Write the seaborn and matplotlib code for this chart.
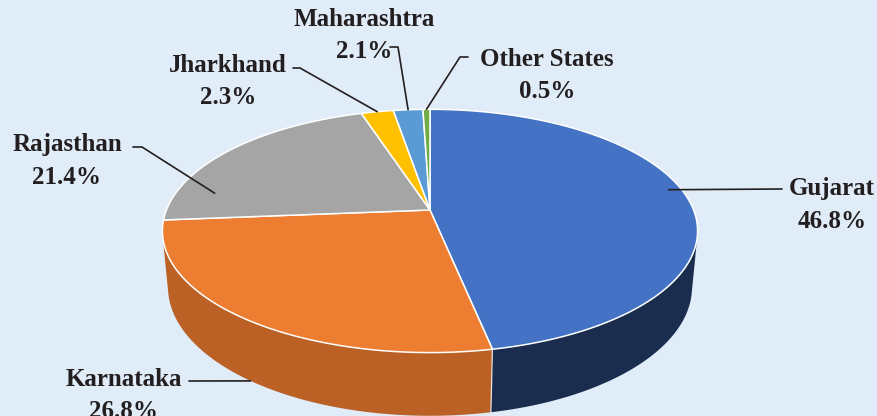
"""
3D-style pie chart: state-wise share (recreated with seaborn/matplotlib)
"""

import numpy as np
import matplotlib
matplotlib.use("Agg")
import matplotlib.pyplot as plt
from matplotlib.patches import Polygon
import seaborn as sns

# Data
states = ["Gujarat", "Karnataka", "Rajasthan", "Jharkhand", "Maharashtra", "Other States"]
shares = [46.8, 26.8, 21.4, 2.3, 2.1, 0.5]

# Office palette for the top face and the shaded side walls
top_colors = ["#4472C4", "#ED7D31", "#A5A5A5", "#FFC000", "#5B9BD5", "#70AD47"]
side_colors = ["#1B2D4F", "#BB6126", "#7C7C7C", "#BF9000", "#44749F", "#548235"]

BG = "#E0ECF8"
INK = "#231F20"

# Perspective camera for the tilted disc (pixel space)
CX, CY = 430, 210
SCALE = 1368
DIST = 5.19
ELEV = np.radians(26.6)
THICK = 0.24


def project(theta, r=1.0, h=0.0):
    """Project a point of the disc (angle clockwise from the back, radius, height) to pixels"""
    u = r * np.sin(theta)
    v = -r * np.cos(theta)
    z = DIST - v * np.cos(ELEV) - h * np.sin(ELEV)
    x = CX + SCALE * u / z
    y = CY + SCALE * (v * np.sin(ELEV) - h * np.cos(ELEV)) / z
    return x, y


sns.set_theme(style="white")
plt.rcParams['font.family'] = ['Liberation Serif', 'DejaVu Serif']

fig = plt.figure(figsize=(8.78, 4.16), dpi=100, facecolor=BG)
ax = fig.add_axes([0, 0, 1, 1])
ax.set_facecolor(BG)
ax.set_xlim(0, 878)
ax.set_ylim(416, 0)
ax.axis("off")

total = sum(shares)
bounds = 2 * np.pi * np.concatenate([[0], np.cumsum(shares)]) / total

# Side walls are only visible where they face the camera
v_min = 1.0 / (DIST * np.cos(ELEV))
vis_lo = np.arccos(-v_min)
vis_hi = 2 * np.pi - vis_lo

for i in range(len(shares)):
    a = max(bounds[i], vis_lo)
    b = min(bounds[i + 1], vis_hi)
    if b <= a:
        continue
    t = np.linspace(a, b, 120)
    top = np.column_stack(project(t))
    bottom = np.column_stack(project(t[::-1], h=-THICK))
    ax.add_patch(Polygon(np.vstack([top, bottom]), closed=True,
                         facecolor=side_colors[i], edgecolor="none", zorder=1))

# Seams between walls
for b in bounds[1:-1]:
    if vis_lo < b < vis_hi:
        x0, y0 = project(b)
        x1, y1 = project(b, h=-THICK)
        ax.plot([x0, x1], [y0, y1], color="white", lw=0.9, alpha=0.8, zorder=1.5)

# Top face wedges
for i in range(len(shares)):
    t = np.linspace(bounds[i], bounds[i + 1], max(4, int(300 * shares[i] / total)))
    rim = np.column_stack(project(t))
    pts = np.vstack([[project(0, r=0)], rim])
    ax.add_patch(Polygon(pts, closed=True, facecolor=top_colors[i],
                         edgecolor="white", lw=1.1, joinstyle="round", zorder=2))

# Labels: text centre, leader start/knee, anchor (fraction in slice, radius, height)
label_pos = [(832, 205), (124, 396), (67, 161), (228, 82), (364, 36), (547, 75)]
leader_start = [[(782, 189)], [(189, 381)], [(133, 147), (142, 147)],
                [(293, 68), (300, 68)], [(390, 47), (398, 47)], [(468, 57), (460, 57)]]
anchor = [(0.47, 0.95, 0.0), (0.5, 1.0, -THICK), (0.19, 0.85, 0.0),
          (0.5, 1.0, 0.0), (0.5, 1.0, 0.0), (0.5, 1.0, 0.0)]

for i, name in enumerate(states):
    frac, r, h = anchor[i]
    theta = bounds[i] + frac * (bounds[i + 1] - bounds[i])
    end = project(theta, r=r, h=h)
    pts = leader_start[i] + [end]
    ax.plot([p[0] for p in pts], [p[1] for p in pts], color=INK, lw=1.2, zorder=3)
    ax.text(label_pos[i][0], label_pos[i][1], f"{name}\n{shares[i]:.1f}%",
            ha="center", va="center", fontsize=18, fontweight="bold",
            color=INK, linespacing=1.5, zorder=4)

fig.savefig("out.png", dpi=100, facecolor=BG)
